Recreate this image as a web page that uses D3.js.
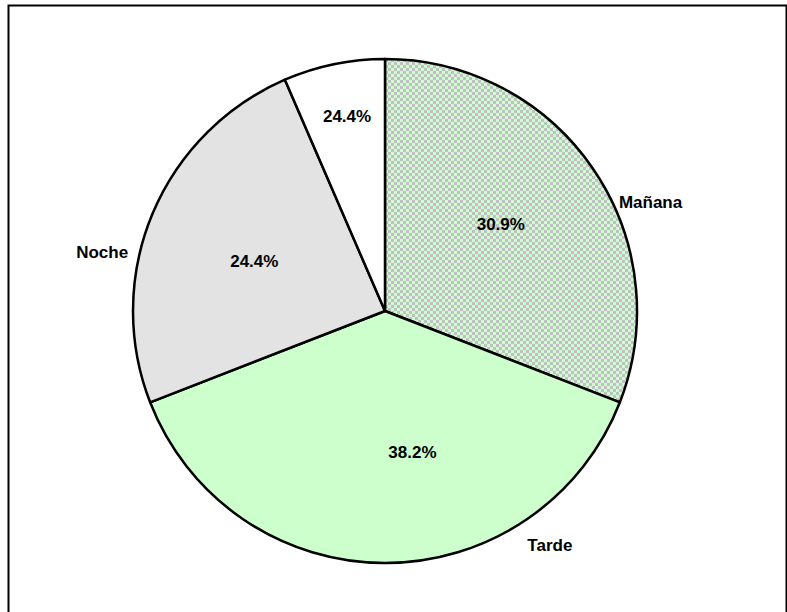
<!DOCTYPE html>
<html>
<head>
<meta charset="utf-8">
<script src="https://cdn.jsdelivr.net/npm/d3@7"></script>
<style>
  body { margin: 0; background: #fff; }
  svg { display: block; font-family: "Liberation Sans", Arial, sans-serif; }
</style>
</head>
<body>
<svg width="787" height="612"></svg>
<script>
// data
var categories = ["Mañana", "Tarde", "Noche", ""];
var values = [30.9, 38.2, 24.4, 6.5];
var pctLabels = ["30.9%", "38.2%", "24.4%", "24.4%"];
var fills = ["url(#checker)", "#ccffcc", "#e3e3e3", "#ffffff"];

// label placement (layout only)
var pctPos = [[145, 53], [144, 169], [140, 291], [199, 349]];   // [radius, degrees]
var catPos = [[287, 67.7], [286, 144.8], [289, 281.8], null];

var svg = d3.select("svg"),
    width = +svg.attr("width"),
    height = +svg.attr("height");

var cx = 385, cy = 311, radius = 252;

var defs = svg.append("defs");
var pat = defs.append("pattern")
    .attr("id", "checker")
    .attr("patternUnits", "userSpaceOnUse")
    .attr("width", 6)
    .attr("height", 6);
pat.append("rect").attr("width", 6).attr("height", 6).attr("fill", "#ccffcc");
pat.append("rect").attr("width", 3).attr("height", 3).attr("fill", "#c0c0c4");
pat.append("rect").attr("x", 3).attr("y", 3).attr("width", 3).attr("height", 3).attr("fill", "#c0c0c4");

// outer frame (runs off the bottom edge)
svg.append("rect")
    .attr("x", 8.5)
    .attr("y", 5.5)
    .attr("width", 778)
    .attr("height", 640)
    .attr("fill", "none")
    .attr("stroke", "#000")
    .attr("stroke-width", 2);

var pie = d3.pie().sort(null).value(function(d) { return d; });
var arc = d3.arc().innerRadius(0).outerRadius(radius);

var g = svg.append("g").attr("transform", "translate(" + cx + "," + cy + ")");

g.selectAll("path")
  .data(pie(values))
  .enter().append("path")
    .attr("d", arc)
    .attr("fill", function(d, i) { return fills[i]; })
    .attr("stroke", "#000")
    .attr("stroke-width", 2.5)
    .attr("stroke-linejoin", "round");

function polar(p) {
  var a = p[1] * Math.PI / 180;
  return [p[0] * Math.sin(a), -p[0] * Math.cos(a)];
}

g.selectAll("text.pct")
  .data(pctLabels)
  .enter().append("text")
    .attr("class", "pct")
    .attr("x", function(d, i) { return polar(pctPos[i])[0]; })
    .attr("y", function(d, i) { return polar(pctPos[i])[1]; })
    .attr("dy", "0.36em")
    .attr("text-anchor", "middle")
    .style("font-size", "17px")
    .style("font-weight", "bold")
    .text(function(d) { return d; });

g.selectAll("text.cat")
  .data(categories.filter(function(d, i) { return catPos[i]; }))
  .enter().append("text")
    .attr("class", "cat")
    .attr("x", function(d, i) { return polar(catPos[i])[0]; })
    .attr("y", function(d, i) { return polar(catPos[i])[1]; })
    .attr("dy", "0.36em")
    .attr("text-anchor", "middle")
    .style("font-size", "17px")
    .style("font-weight", "bold")
    .text(function(d) { return d; });
</script>
</body>
</html>
